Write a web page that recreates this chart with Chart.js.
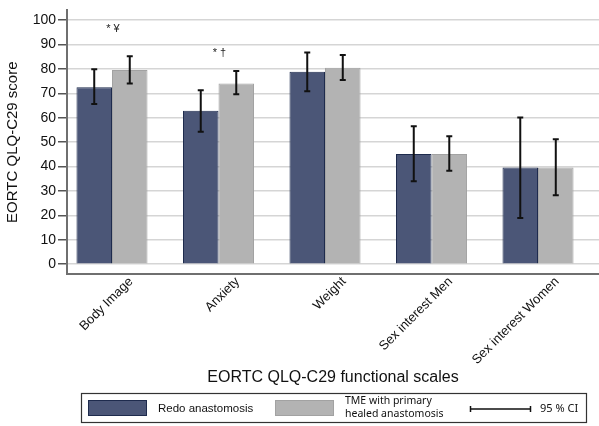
<!DOCTYPE html>
<html>
<head>
<meta charset="utf-8">
<script src="https://cdn.jsdelivr.net/npm/chart.js@4.4.0/dist/chart.umd.min.js"></script>
<style>
  body { margin: 0; background: #fff; }
  canvas { display: block; }
</style>
</head>
<body>
<canvas id="chart" width="599" height="426"></canvas>
<script>
const categories = ['Body Image', 'Anxiety', 'Weight', 'Sex interest Men', 'Sex interest Women'];

const redoMeans = [72.5, 62.9, 78.9, 45.2, 39.6];
const redoLow   = [65.6, 54.3, 70.9, 34.0, 18.9];
const redoHigh  = [79.9, 71.3, 86.8, 56.5, 60.1];

const tmeMeans = [79.6, 74.1, 80.5, 45.2, 39.6];
const tmeLow   = [74.1, 69.6, 75.5, 38.3, 28.3];
const tmeHigh  = [85.2, 79.2, 85.7, 52.4, 51.2];

// significance markers above some pairs
const markers = ['* ¥', '* †', '', '', ''];
const markerLevel = [96.5, 86.5, null, null, null];

const yTicks = [0, 10, 20, 30, 40, 50, 60, 70, 80, 90, 100];

const darkFill = '#4b5677';
const darkEdge = '#1e2b4d';
const greyFill = '#b3b3b3';
const greyEdge = '#a2a2a2';
const axisColor = '#6f6f6f';

function toPoints(values) {
    return values.map((v, i) => ({ x: i, y: v }));
}

const errorBars = {
    id: 'errorBars',
    afterDatasetsDraw(chart) {
        const ctx = chart.ctx;
        const yScale = chart.scales.y;
        ctx.save();
        ctx.strokeStyle = '#111';
        ctx.lineWidth = 2;
        chart.data.datasets.forEach((ds, d) => {
            const meta = chart.getDatasetMeta(d);
            meta.data.forEach((bar, i) => {
                const top = yScale.getPixelForValue(ds.high[i]);
                const bottom = yScale.getPixelForValue(ds.low[i]);
                ctx.beginPath();
                ctx.moveTo(bar.x, top);
                ctx.lineTo(bar.x, bottom);
                ctx.moveTo(bar.x - 3, top);
                ctx.lineTo(bar.x + 3, top);
                ctx.moveTo(bar.x - 3, bottom);
                ctx.lineTo(bar.x + 3, bottom);
                ctx.stroke();
            });
        });
        ctx.restore();
    }
};

const markerText = {
    id: 'markerText',
    afterDatasetsDraw(chart) {
        const ctx = chart.ctx;
        const xScale = chart.scales.x;
        const yScale = chart.scales.y;
        ctx.save();
        ctx.fillStyle = '#222';
        ctx.font = '11px "Liberation Sans", Arial, sans-serif';
        ctx.textAlign = 'center';
        ctx.textBaseline = 'middle';
        markers.forEach((m, i) => {
            if (!m) return;
            ctx.fillText(m, xScale.getPixelForValue(i) + 1, yScale.getPixelForValue(markerLevel[i]));
        });
        ctx.restore();
    }
};

const boxLegend = {
    id: 'boxLegend',
    afterDraw(chart) {
        const ctx = chart.ctx;
        ctx.save();
        ctx.strokeStyle = '#333';
        ctx.lineWidth = 1.2;
        ctx.strokeRect(81.5, 393.5, 505, 29);

        ctx.fillStyle = darkFill;
        ctx.fillRect(88, 400, 59, 16);
        ctx.strokeStyle = darkEdge;
        ctx.lineWidth = 1;
        ctx.strokeRect(88.5, 400.5, 58, 15);

        ctx.fillStyle = greyFill;
        ctx.fillRect(275, 400, 59, 16);
        ctx.strokeStyle = greyEdge;
        ctx.strokeRect(275.5, 400.5, 58, 15);

        ctx.fillStyle = '#111';
        ctx.textBaseline = 'middle';
        ctx.textAlign = 'left';
        ctx.font = '11.5px "Liberation Sans", Arial, sans-serif';
        ctx.fillText('Redo anastomosis', 158, 408.5);

        ctx.font = '10.5px "Noto Sans", "Open Sans", sans-serif';
        ctx.fillText('TME with primary', 345, 401);
        ctx.fillText('healed anastomosis', 345, 414);

        ctx.strokeStyle = '#111';
        ctx.lineWidth = 1.5;
        ctx.beginPath();
        ctx.moveTo(470, 409);
        ctx.lineTo(531, 409);
        ctx.moveTo(470.5, 406);
        ctx.lineTo(470.5, 412);
        ctx.moveTo(530.5, 406);
        ctx.lineTo(530.5, 412);
        ctx.stroke();
        ctx.font = '11px "Noto Sans", "Open Sans", sans-serif';
        ctx.fillText('95 % CI', 540, 409);
        ctx.restore();
    }
};

new Chart(document.getElementById('chart'), {
    type: 'bar',
    data: {
        datasets: [
            {
                label: 'Redo anastomosis',
                data: toPoints(redoMeans),
                low: redoLow,
                high: redoHigh,
                backgroundColor: darkFill,
                borderColor: darkEdge,
                borderWidth: 1,
                categoryPercentage: 0.667,
                barPercentage: 1.0
            },
            {
                label: 'TME with primary healed anastomosis',
                data: toPoints(tmeMeans),
                low: tmeLow,
                high: tmeHigh,
                backgroundColor: greyFill,
                borderColor: greyEdge,
                borderWidth: 1,
                categoryPercentage: 0.667,
                barPercentage: 1.0
            }
        ]
    },
    options: {
        responsive: false,
        animation: false,
        layout: { padding: { top: 4, left: 0, right: 0, bottom: 0 } },
        plugins: {
            legend: { display: false },
            tooltip: { enabled: false }
        },
        scales: {
            x: {
                type: 'linear',
                offset: false,
                min: -0.4225,
                max: 4.5725,
                afterBuildTicks: (scale) => {
                    scale.ticks = categories.map((c, i) => ({ value: i }));
                },
                afterFit: (scale) => { scale.height = 152; },
                grid: { display: false, offset: false, drawTicks: false },
                border: { display: true, color: axisColor, width: 2 },
                ticks: {
                    autoSkip: false,
                    minRotation: 45,
                    maxRotation: 45,
                    labelOffset: 19,
                    padding: 0,
                    color: '#111',
                    font: { family: '"Liberation Sans", Arial, sans-serif', size: 13 },
                    callback: (value) => categories[value]
                },
                title: {
                    display: true,
                    text: 'EORTC QLQ-C29 functional scales',
                    color: '#111',
                    font: { family: '"Liberation Sans", Arial, sans-serif', size: 16 },
                    padding: { top: 0, bottom: 39 }
                }
            },
            y: {
                min: -4,
                max: 104,
                afterBuildTicks: (scale) => {
                    scale.ticks = yTicks.map(v => ({ value: v }));
                },
                afterFit: (scale) => { scale.width = 67; },
                grid: {
                    color: '#d5d5d5',
                    lineWidth: 1.5,
                    tickColor: '#555',
                    tickLength: 9,
                    tickWidth: 1.5
                },
                border: { display: true, color: axisColor, width: 2 },
                ticks: {
                    padding: 2,
                    color: '#111',
                    font: { family: '"Liberation Sans", Arial, sans-serif', size: 14 }
                },
                title: {
                    display: true,
                    text: 'EORTC QLQ-C29 score',
                    color: '#111',
                    font: { family: '"Liberation Sans", Arial, sans-serif', size: 15 }
                }
            }
        }
    },
    plugins: [errorBars, markerText, boxLegend]
});
</script>
</body>
</html>
